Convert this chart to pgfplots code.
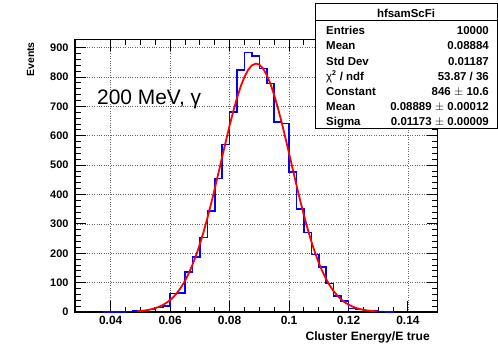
\documentclass[border=0pt]{standalone}
\usepackage{fontspec}
\setmainfont{Liberation Sans}
\usepackage{pgfplots}
\usepackage{pgfplotstable}
\pgfplotsset{compat=1.18}
\pgfplotstableread{
x y
0.0375 1
0.04 0
0.0425 1
0.045 2
0.0475 3
0.05 4
0.0525 9
0.055 16
0.0575 20
0.06 63
0.0625 65
0.065 137
0.0675 188
0.07 254
0.0725 343
0.075 455
0.0775 570
0.08 681
0.0825 825
0.085 884
0.0875 871
0.09 829
0.0925 778
0.095 647
0.0975 642
0.1 477
0.1025 350
0.105 271
0.1075 196
0.11 153
0.1125 97
0.115 54
0.1175 38
0.12 12
0.1225 8
0.125 5
0.1275 3
0.13 2
0.1325 1
0.135 0
}\histdata
\begin{document}
\begin{tikzpicture}[x=1bp,y=1bp]
\useasboundingbox (0,0) rectangle (498,345);
\begin{axis}[
  at={(75bp,33bp)}, anchor=south west,
  scale only axis, width=362.7bp, height=272.5bp,
  xmin=0.028, xmax=0.15, ymin=0, ymax=928,
  xtick={0.04,0.06,0.08,0.1,0.12,0.14},
  xticklabels={0.04,0.06,0.08,0.1,0.12,0.14},
  ytick={0,100,200,300,400,500,600,700,800,900},
  yticklabels={0,100,200,300,400,500,600,700,800,900},
  minor x tick num=3, minor y tick num=4,
  major tick length=11bp, minor tick length=5.5bp,
  tick align=inside,
  grid=major,
  grid style={dotted, black!60, line width=0.7bp},
  axis line style={line width=1.2bp},
  tick style={line width=1bp, black},
  /pgf/number format/assume math mode=true,
  xticklabel style={font=\bfseries\fontsize{12}{12}\selectfont, yshift=-1bp},
  yticklabel style={font=\bfseries\fontsize{11}{11}\selectfont, xshift=-3bp},
  clip=true,
]
\addplot[const plot mark left, blue, line width=1.6bp] table[x=x,y=y] {\histdata};
\addplot[red, line width=1.8bp] coordinates {
(0.049,2.61)(0.05,3.47)(0.05125,4.9)(0.0525,6.88)(0.05375,9.5)(0.055,13.0)(0.05625,17.6)(0.0575,23.6)(0.05875,31.2)(0.06,40.8)(0.06125,52.7)(0.0625,67.3)(0.06375,85.1)(0.065,106.4)(0.06625,131.3)(0.0675,160.5)(0.06875,193.7)(0.07,231.3)(0.07125,273.0)(0.0725,318.8)(0.07375,367.7)(0.075,419.7)(0.07625,473.3)(0.0775,528.0)(0.07875,582.2)(0.08,634.8)(0.08125,684.3)(0.0825,729.3)(0.08375,768.6)(0.085,800.7)(0.08625,824.8)(0.0875,840.1)(0.08889,846)(0.09,842.2)(0.09125,829.1)(0.0925,806.8)(0.09375,776.5)(0.095,738.7)(0.09625,694.8)(0.0975,646.2)(0.09875,594.2)(0.1,540.2)(0.10125,485.6)(0.1025,431.6)(0.10375,379.3)(0.105,329.4)(0.10625,283.0)(0.1075,240.4)(0.10875,201.8)(0.11,167.5)(0.11125,137.5)(0.1125,111.6)(0.11375,89.5)(0.115,71.0)(0.11625,55.7)(0.1175,43.2)(0.11875,33.1)(0.12,25.1)(0.12125,18.8)(0.1225,13.9)(0.12375,10.2)(0.125,7.41)(0.12625,5.3)(0.1275,3.76)(0.12875,2.6)(0.1295,2.11)
};
\end{axis}
% axis titles
\node[rotate=90, anchor=base east, inner sep=0, font=\bfseries\fontsize{10.5}{10.5}\selectfont] at (34,303) {Events};
\node[anchor=base east, inner sep=0, font=\bfseries\fontsize{12.2}{12.2}\selectfont] at (430,5) {Cluster Energy/E true};
% annotation
\node[anchor=base west, inner sep=0, font=\fontsize{21}{21}\selectfont] at (97,241) {200 MeV, γ};
% stats box
\draw[fill=white, line width=1bp] (315,217) rectangle (497,341);
\draw[line width=0.8bp] (315,324.3) -- (497,324.3);
\begin{scope}[every node/.style={inner sep=0, font=\bfseries\fontsize{11.5}{11.5}\selectfont}]
\node[anchor=base] at (406,327.7) {hfsamScFi};
\node[anchor=base west] at (326,310.3) {Entries};
\node[anchor=base east] at (489,310.3) {10000};
\node[anchor=base west] at (326,295.1) {Mean};
\node[anchor=base east] at (489,295.1) {0.08884};
\node[anchor=base west] at (326,280) {Std Dev};
\node[anchor=base east] at (489,280) {0.01187};
\node[anchor=base west] at (326,264.8) {{\mdseries χ}\textsuperscript{\fontsize{7}{7}\selectfont 2} / ndf};
\node[anchor=base east] at (489,264.8) {53.87 / 36};
\node[anchor=base west] at (326,249.6) {Constant};
\node[anchor=base east] at (489,249.6) {846 $\pm$ 10.6};
\node[anchor=base west] at (326,234.4) {Mean};
\node[anchor=base east] at (489,234.4) {0.08889 $\pm$ 0.00012};
\node[anchor=base west] at (326,219.3) {Sigma};
\node[anchor=base east] at (489,219.3) {0.01173 $\pm$ 0.00009};
\end{scope}
\end{tikzpicture}
\end{document}
